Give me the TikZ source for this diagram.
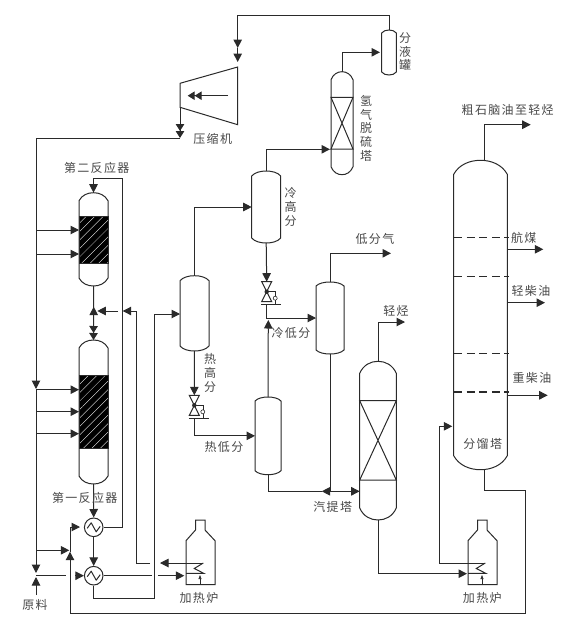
\documentclass[tikz,border=0pt]{standalone}
\usepackage{fontspec}
\usetikzlibrary{arrows.meta,patterns.meta,calc}
\newfontfamily\cjk[LetterSpace=11]{Noto Sans CJK SC}
\definecolor{ink}{HTML}{2A2A2A}
\definecolor{labelink}{HTML}{484848}
\tikzset{
  pipe/.style={draw=ink, line width=1pt},
  flow/.style={pipe, -{Triangle[length=8.5pt,width=8.5pt]}},
  dflow/.style={pipe, -{Triangle[length=7pt,width=8.5pt]Triangle[length=7pt,width=8.5pt]}},
  tiny/.style={pipe, line width=0.6pt, -{Triangle[length=4pt,width=3pt]}},
  lbl/.style={text=labelink, font=\cjk\fontsize{12}{13.8}\selectfont, inner sep=0pt, align=center},
  vbox/.style={inner sep=0pt, outer sep=0pt, rectangle},
  hxbox/.style={pipe, circle, inner sep=0pt, minimum size=18.6pt},
  tray/.style={pipe, line width=1.1pt, dash pattern=on 8pt off 4.6pt},
}
% name, left, right, top, bottom, dome
\newcommand{\vessel}[6]{
  \node[vbox, minimum width={(#3-#2)*1pt}, minimum height={(#5-#4)*1pt}] (#1) at ({(#2+#3)/2},{(#4+#5)/2}) {};
  \draw[pipe] (#2,{#4+#6}) .. controls ({#2+0.1*(#3-#2)},{#4+0.3*#6}) and ({#2+0.3*(#3-#2)},#4) .. ({(#2+#3)/2},#4)
    .. controls ({#3-0.3*(#3-#2)},#4) and ({#3-0.1*(#3-#2)},{#4+0.3*#6}) .. (#3,{#4+#6})
    -- (#3,{#5-#6}) .. controls ({#3-0.1*(#3-#2)},{#5-0.3*#6}) and ({#3-0.3*(#3-#2)},#5) .. ({(#2+#3)/2},#5)
    .. controls ({#2+0.3*(#3-#2)},#5) and ({#2+0.1*(#3-#2)},{#5-0.3*#6}) .. (#2,{#5-#6}) -- cycle;
}
% left, right, top, bottom
\newcommand{\packing}[4]{
  \draw[pipe] (#1,#3) -- (#2,#3) -- (#1,#4) -- (#2,#4) -- cycle;
}
\newcommand{\catbed}[4]{
  \fill[black] (#1,#3) rectangle (#2,#4);
  \fill[pattern={Lines[angle=45,distance=6pt,line width=0.35pt]}, pattern color=white] (#1,#3) rectangle (#2,#4);
  \draw[pipe] (#1,#3) rectangle (#2,#4);
}
% name, x, y
\newcommand{\valve}[3]{
  \begin{scope}[shift={(#2,#3)}]
    \node[vbox, minimum width=10pt, minimum height=20pt] (#1) at (0,0) {};
    \draw[pipe] (-5,-10) -- (5,-10) -- (-5,10) -- (5,10) -- cycle;
    \fill[ink] (0,0) circle (2.2);
    \draw[pipe, line width=0.6pt] (0,0) -- (8.5,0) -- (8.5,4.5) (8.5,8.5) -- (8.5,13);
    \draw[pipe, line width=0.6pt] (8.5,6.5) circle (2);
    \draw[pipe] (-5.5,13) -- (14.5,13);
    \coordinate (#1in) at (0,-10);
    \coordinate (#1out) at (0,13);
  \end{scope}
}
% name, x, y
\newcommand{\exchanger}[3]{
  \node[hxbox] (#1) at (#2,#3) {};
  \draw[pipe, line join=round] (#2-6.5,#3+1) -- (#2-2.5,#3-4.5) -- (#2+2.5,#3+4.5) -- (#2+6.5,#3-1);
}
% name, x of left side
\newcommand{\furnace}[2]{
  \begin{scope}[shift={(#2,520)}]
    \node[vbox, minimum width=29pt, minimum height=44pt] (#1) at (14.5,42.7) {};
    \draw[pipe] (9.5,0) -- (19,0) -- (19,10) -- (29,20.7) -- (29,64.7) -- (0,64.7) -- (0,20.7) -- (9.5,10) -- cycle;
    \draw[pipe] (17.3,43) -- (8.3,48.5) -- (17.7,53.3) -- (0,53.3);
    \draw[tiny] (14,64.7) -- (14,55);
    \coordinate (#1out) at (17.3,43);
  \end{scope}
}
\begin{document}
\begin{tikzpicture}[x=1pt,y=-1pt]
\useasboundingbox (0,0) rectangle (574,625);

% vessels
\vessel{rtwo}{79}{108}{192.7}{286}{8}
\vessel{rone}{79}{108}{340}{484}{8}
\vessel{hothigh}{180}{209}{275.7}{351}{5}
\vessel{coldhigh}{251.7}{280.7}{171}{243}{5}
\vessel{hotlow}{255}{281}{397}{474.7}{4}
\vessel{coldlow}{316}{344}{282}{354}{4}
\vessel{desulf}{331}{353}{71.7}{174.7}{8}
\vessel{knockout}{381.7}{396.3}{30}{75}{3}
\vessel{stripper}{359.7}{396.3}{361.3}{520}{12}
\vessel{fractor}{453.7}{507.3}{160.3}{469.7}{14}
\catbed{79}{108}{216}{263}
\catbed{79}{108}{375.7}{448}
\packing{331}{353}{97.3}{149}
\packing{359.7}{396.3}{400.7}{480}
\foreach \y in {237.7,276.3,353.7,392} {
  \draw[tray] (454,\y) -- (509,\y);
}

% compressor
\node[vbox, minimum width=57.7pt, minimum height=57.7pt] (compressor) at (208.85,95.85) {};
\draw[pipe] (compressor.north east) -- (compressor.south east) -- (180,107.3) -- (180,83.3) -- cycle;
\coordinate (compin) at (228,95.7);
\coordinate (compout) at (187.7,95.7);
\draw[dflow] (compin) -- (compout);

\exchanger{hxone}{93.7}{527.3}
\exchanger{hxtwo}{93.7}{575.7}
\valve{valvecold}{266.7}{291.7}
\valve{valvehot}{194.3}{405.3}
\furnace{furnaceone}{186}
\furnace{furnacetwo}{468}

% recycle gas
\coordinate (topleft) at (237.7,15.7);
\coordinate (suctiona) at (237.7,48);
\coordinate (suctionb) at (237.7,62);
\coordinate (dischtop) at (180,107.3);
\coordinate (dischend) at (180,138);
\coordinate (mainh) at (36,138);
\coordinate (mainmid) at (36,389);
\coordinate (mainend) at (36,573);
\draw[flow] (knockout.north) |- (topleft) -- (suctiona);
\draw[flow] (suctiona) -- (suctionb);
\draw[dflow] (dischtop) -- (dischend);
\draw[pipe] (dischend) -- (mainh);
\draw[flow] (mainh) -- (mainmid);
\draw[flow] (mainmid) -- (mainend);
\foreach \y in {230,254} {
  \draw[flow] (36,\y) -- (rtwo.west |- 36,\y);
}
\foreach \y in {389.7,411.7,433.7} {
  \draw[flow] (36,\y) -- (rone.west |- 36,\y);
}

% feed
\coordinate (feedin) at (36,595);
\coordinate (feedtip) at (36,577);
\coordinate (feedh) at (36,575.7);
\coordinate (feedgapa) at (65.7,575.7);
\coordinate (feedgapb) at (75,575.7);
\draw[flow] (feedin) -- (feedtip);
\draw[pipe] (feedh) -- (feedgapa);
\draw[flow] (feedgapb) -- (hxtwo.west);
\draw[flow] (36,550.3) -- (69.3,550.3);

% reactors
\coordinate (hxonein) at (122.3,178.3);
\coordinate (junctop) at (93.7,318);
\coordinate (junctip) at (93.7,306.7);
\coordinate (juncmid) at (93.7,311);
\coordinate (rightjunc) at (97.3,311);
\coordinate (jbranch) at (118,311);
\coordinate (jtip) at (122.7,311);
\coordinate (jright) at (136.7,311);
\coordinate (jlow) at (136.7,563);
\coordinate (jgap) at (150,563);
\draw[pipe] (rtwo.south) -- (juncmid);
\draw[flow] (junctop) -- (junctip);
\draw[dflow] (juncmid) -- (rone.north);
\draw[flow] (jbranch) -- (rightjunc);
\draw[flow] (jgap) -- (jlow) -- (jright) -- (jtip);
\draw[flow] (hxone.east) -| (hxonein) -| (rtwo.north);
\draw[flow] (rone.south) -- (hxone.north);
\draw[flow] (hxone.south) -- (hxtwo.north);

% feed to furnace and hot high separator
\coordinate (toheatera) at (152,575.7);
\coordinate (toheaterb) at (158.3,575.7);
\coordinate (toheaterc) at (184.3,575.7);
\coordinate (bottomh) at (154.3,598.7);
\coordinate (bottomr) at (154.3,314);
\draw[pipe] (hxtwo.east) -- (toheatera);
\draw[flow] (toheaterb) -- (toheaterc);
\draw[flow] (hxtwo.south) |- (bottomh) -- (bottomr) -- (hothigh.west |- bottomr);
\draw[flow] (furnaceoneout) -- (160,563);

% separators
\draw[flow] (hothigh.north) |- (coldhigh.west);
\coordinate (desulfin) at (330,149.3);
\draw[flow] (coldhigh.north) |- (desulfin);
\coordinate (desulfout) at (380,52.3);
\draw[flow] (desulf.north) |- (desulfout);
\draw[flow] (coldhigh.south) -- (valvecoldin);
\coordinate (coldturn) at (266.7,318);
\draw[flow] (valvecoldout) -- (coldturn) -- (coldlow.west |- coldturn);
\coordinate (hotlowtip) at (268.3,320);
\draw[flow] (hotlow.north) -- (hotlowtip);
\draw[flow] (hothigh.south) -- (valvehotin);
\draw[flow] (valvehotout) |- (hotlow.west);
\coordinate (stripleft) at (321.7,491.3);
\coordinate (stripjunc) at (330,491.3);
\draw[pipe] (hotlow.south) |- (stripleft);
\draw[flow] (coldlow.south) -- (stripjunc) -- (stripleft);
\draw[flow] (stripjunc) -- (stripper.west |- stripjunc);

% overhead and side draws
\coordinate (lowgas) at (391,253.3);
\draw[flow] (coldlow.north) |- (lowgas);
\coordinate (lighthc) at (405,322);
\draw[flow] (stripper.north) |- (lighthc);
\coordinate (fracin) at (452.3,426.3);
\coordinate (fracleft) at (439.3,426.3);
\coordinate (stripout) at (467,573.7);
\draw[flow] (stripper.south) |- (stripout);
\draw[flow] (furnacetwoout) -| (fracleft) -- (fracin);
\coordinate (naphtha) at (530.7,124.7);
\draw[flow] (484.3,160.3) |- (naphtha);
\coordinate (sideone) at (543.3,249.3);
\coordinate (sidetwo) at (545,302.7);
\coordinate (sidethree) at (547.7,395.3);
\draw[flow] (fractor.east |- sideone) -- (sideone);
\draw[flow] (fractor.east |- sidetwo) -- (sidetwo);
\draw[flow] (fractor.east |- sidethree) -- (sidethree);

% bottoms return
\coordinate (fracb) at (484.3,469.7);
\coordinate (retb) at (484.3,490);
\coordinate (retr) at (525.7,490);
\coordinate (retd) at (525.7,613);
\coordinate (retl) at (70,613);
\coordinate (rettip) at (70,551.7);
\coordinate (retup) at (70,527);
\coordinate (rethx) at (80,527);
\draw[flow] (fracb) -- (retb) -- (retr) -- (retd) -- (retl) -- (rettip);
\draw[flow] (rettip) -- (retup) -- (rethx);

% labels
\node[lbl] (lcomp) at (212.7,139.3) {压缩机};
\node[lbl] (lrtwo) at (96.7,168) {第二反应器};
\node[lbl] (lrone) at (84.7,498.3) {第一反应器};
\node[lbl] (lfeed) at (35,605) {原料};
\node[lbl] (lfurna) at (199,598.3) {加热炉};
\node[lbl] (lfurnb) at (482.3,598.3) {加热炉};
\node[lbl] (lhotlow) at (224,446.7) {热低分};
\node[lbl] (lhothigh) at (210,373) {热\\高\\分};
\node[lbl] (lcoldhigh) at (290.7,206.7) {冷\\高\\分};
\node[lbl] (lcoldlow) at (291,333) {冷低分};
\node[lbl] (llowgas) at (375,238.7) {低分气};
\node[lbl] (llight) at (396,310.7) {轻烃};
\node[lbl] (lnaphtha) at (507.7,110) {粗石脑油至轻烃};
\node[lbl] (ljet) at (523.7,237.7) {航煤};
\node[lbl] (llgo) at (531,290.7) {轻柴油};
\node[lbl] (lhgo) at (532,378.3) {重柴油};
\node[lbl] (lfrac) at (482.7,444.3) {分馏塔};
\node[lbl] (lstrip) at (332.7,507.3) {汽提塔};
\node[lbl] (lko) at (405,51.7) {分\\液\\罐};
\node[lbl] (ldesulf) at (366,128.3) {氢\\气\\脱\\硫\\塔};
\end{tikzpicture}
\end{document}
